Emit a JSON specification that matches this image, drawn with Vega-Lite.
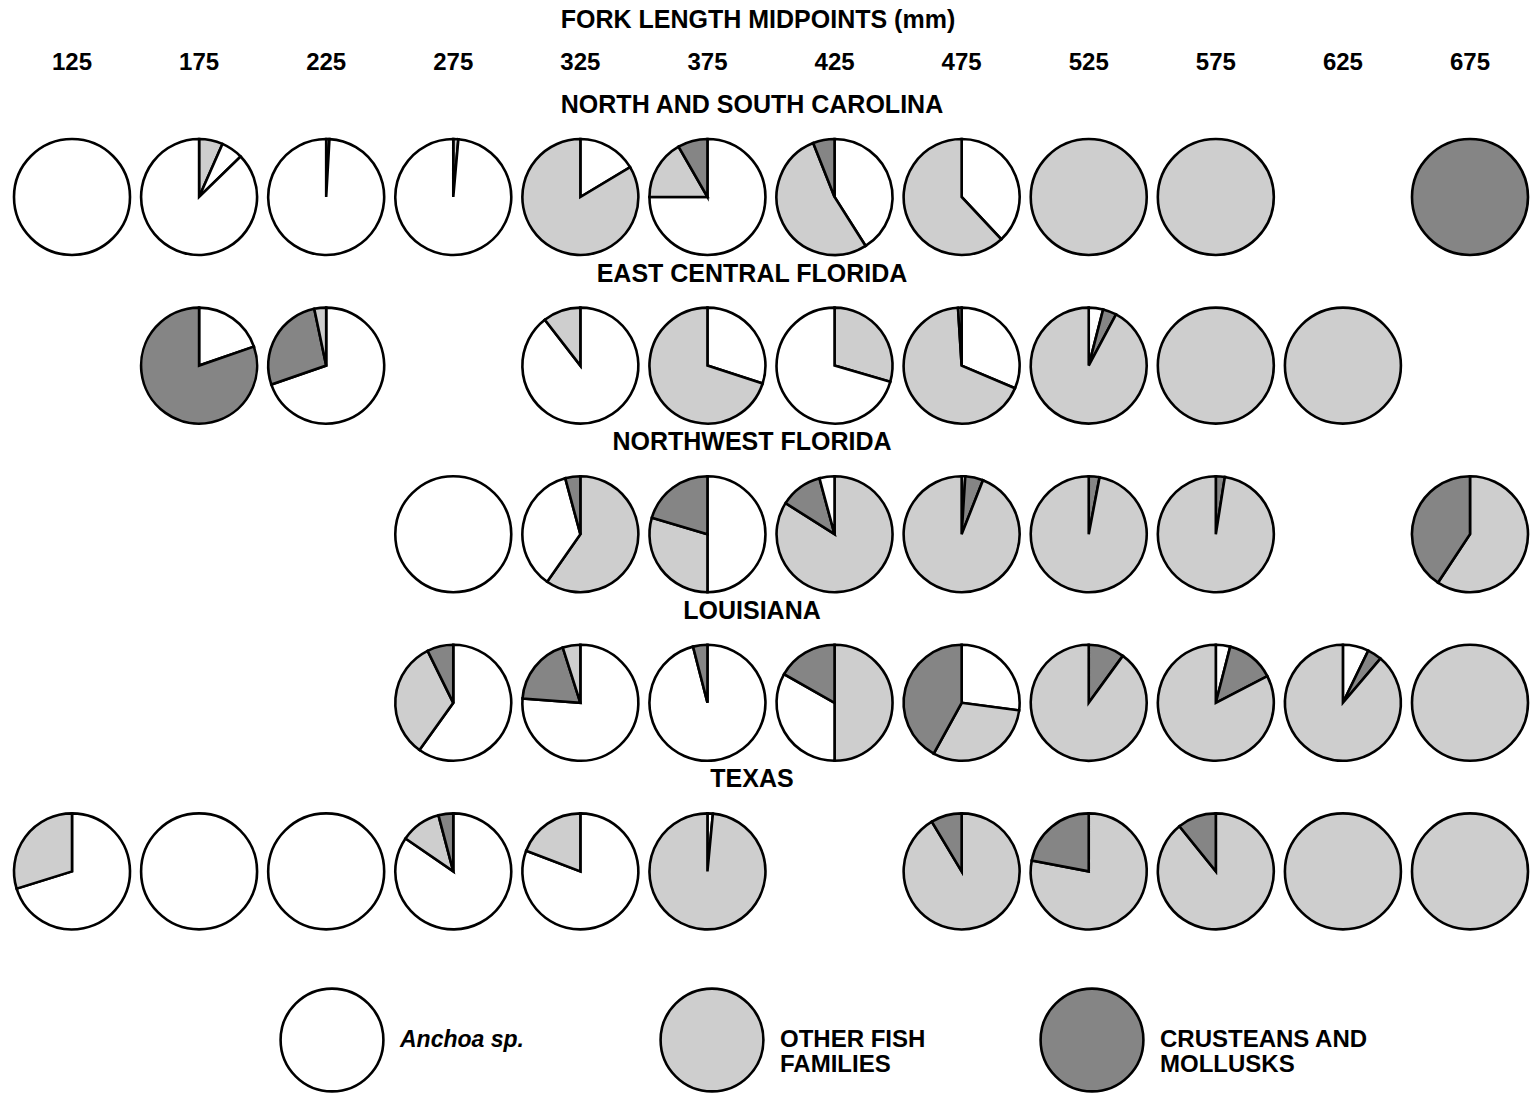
{
  "$schema": "https://vega.github.io/schema/vega-lite/v6.json",
  "width": 1536,
  "height": 1103,
  "autosize": {"type": "fit", "contains": "padding"},
  "padding": 0,
  "background": "white",
  "config": {"view": {"stroke": null}, "axis": {"disable": true}, "font": "Liberation Sans"},
  "datasets": {
    "pies": [
      {"region": "NORTH AND SOUTH CAROLINA", "length": 125, "category": "Anchoa sp.", "pct": 100, "seq": 1},
      {"region": "NORTH AND SOUTH CAROLINA", "length": 175, "category": "OTHER FISH FAMILIES", "pct": 6.6, "seq": 1},
      {"region": "NORTH AND SOUTH CAROLINA", "length": 175, "category": "Anchoa sp.", "pct": 6.1, "seq": 2},
      {"region": "NORTH AND SOUTH CAROLINA", "length": 175, "category": "Anchoa sp.", "pct": 87.3, "seq": 3},
      {"region": "NORTH AND SOUTH CAROLINA", "length": 225, "category": "OTHER FISH FAMILIES", "pct": 0.9, "seq": 1},
      {"region": "NORTH AND SOUTH CAROLINA", "length": 225, "category": "Anchoa sp.", "pct": 99.1, "seq": 2},
      {"region": "NORTH AND SOUTH CAROLINA", "length": 275, "category": "OTHER FISH FAMILIES", "pct": 1.4, "seq": 1},
      {"region": "NORTH AND SOUTH CAROLINA", "length": 275, "category": "Anchoa sp.", "pct": 98.6, "seq": 2},
      {"region": "NORTH AND SOUTH CAROLINA", "length": 325, "category": "Anchoa sp.", "pct": 16.4, "seq": 1},
      {"region": "NORTH AND SOUTH CAROLINA", "length": 325, "category": "OTHER FISH FAMILIES", "pct": 83.6, "seq": 2},
      {"region": "NORTH AND SOUTH CAROLINA", "length": 375, "category": "Anchoa sp.", "pct": 75, "seq": 1},
      {"region": "NORTH AND SOUTH CAROLINA", "length": 375, "category": "OTHER FISH FAMILIES", "pct": 16.7, "seq": 2},
      {"region": "NORTH AND SOUTH CAROLINA", "length": 375, "category": "CRUSTEANS AND MOLLUSKS", "pct": 8.3, "seq": 3},
      {"region": "NORTH AND SOUTH CAROLINA", "length": 425, "category": "Anchoa sp.", "pct": 41, "seq": 1},
      {"region": "NORTH AND SOUTH CAROLINA", "length": 425, "category": "OTHER FISH FAMILIES", "pct": 53, "seq": 2},
      {"region": "NORTH AND SOUTH CAROLINA", "length": 425, "category": "CRUSTEANS AND MOLLUSKS", "pct": 6, "seq": 3},
      {"region": "NORTH AND SOUTH CAROLINA", "length": 475, "category": "Anchoa sp.", "pct": 38, "seq": 1},
      {"region": "NORTH AND SOUTH CAROLINA", "length": 475, "category": "OTHER FISH FAMILIES", "pct": 62, "seq": 2},
      {"region": "NORTH AND SOUTH CAROLINA", "length": 525, "category": "OTHER FISH FAMILIES", "pct": 100, "seq": 1},
      {"region": "NORTH AND SOUTH CAROLINA", "length": 575, "category": "OTHER FISH FAMILIES", "pct": 100, "seq": 1},
      {"region": "NORTH AND SOUTH CAROLINA", "length": 675, "category": "CRUSTEANS AND MOLLUSKS", "pct": 100, "seq": 1},

      {"region": "EAST CENTRAL FLORIDA", "length": 175, "category": "Anchoa sp.", "pct": 19.7, "seq": 1},
      {"region": "EAST CENTRAL FLORIDA", "length": 175, "category": "CRUSTEANS AND MOLLUSKS", "pct": 80.3, "seq": 2},
      {"region": "EAST CENTRAL FLORIDA", "length": 225, "category": "Anchoa sp.", "pct": 69.7, "seq": 1},
      {"region": "EAST CENTRAL FLORIDA", "length": 225, "category": "CRUSTEANS AND MOLLUSKS", "pct": 27, "seq": 2},
      {"region": "EAST CENTRAL FLORIDA", "length": 225, "category": "OTHER FISH FAMILIES", "pct": 3.3, "seq": 3},
      {"region": "EAST CENTRAL FLORIDA", "length": 325, "category": "Anchoa sp.", "pct": 89.5, "seq": 1},
      {"region": "EAST CENTRAL FLORIDA", "length": 325, "category": "OTHER FISH FAMILIES", "pct": 10.5, "seq": 2},
      {"region": "EAST CENTRAL FLORIDA", "length": 375, "category": "Anchoa sp.", "pct": 30, "seq": 1},
      {"region": "EAST CENTRAL FLORIDA", "length": 375, "category": "OTHER FISH FAMILIES", "pct": 70, "seq": 2},
      {"region": "EAST CENTRAL FLORIDA", "length": 425, "category": "OTHER FISH FAMILIES", "pct": 29.5, "seq": 1},
      {"region": "EAST CENTRAL FLORIDA", "length": 425, "category": "Anchoa sp.", "pct": 70.5, "seq": 2},
      {"region": "EAST CENTRAL FLORIDA", "length": 475, "category": "Anchoa sp.", "pct": 31.4, "seq": 1},
      {"region": "EAST CENTRAL FLORIDA", "length": 475, "category": "OTHER FISH FAMILIES", "pct": 67.6, "seq": 2},
      {"region": "EAST CENTRAL FLORIDA", "length": 475, "category": "CRUSTEANS AND MOLLUSKS", "pct": 1, "seq": 3},
      {"region": "EAST CENTRAL FLORIDA", "length": 525, "category": "Anchoa sp.", "pct": 4, "seq": 1},
      {"region": "EAST CENTRAL FLORIDA", "length": 525, "category": "CRUSTEANS AND MOLLUSKS", "pct": 3.8, "seq": 2},
      {"region": "EAST CENTRAL FLORIDA", "length": 525, "category": "OTHER FISH FAMILIES", "pct": 92.2, "seq": 3},
      {"region": "EAST CENTRAL FLORIDA", "length": 575, "category": "OTHER FISH FAMILIES", "pct": 100, "seq": 1},
      {"region": "EAST CENTRAL FLORIDA", "length": 625, "category": "OTHER FISH FAMILIES", "pct": 100, "seq": 1},

      {"region": "NORTHWEST FLORIDA", "length": 275, "category": "Anchoa sp.", "pct": 100, "seq": 1},
      {"region": "NORTHWEST FLORIDA", "length": 325, "category": "OTHER FISH FAMILIES", "pct": 59.7, "seq": 1},
      {"region": "NORTHWEST FLORIDA", "length": 325, "category": "Anchoa sp.", "pct": 36.1, "seq": 2},
      {"region": "NORTHWEST FLORIDA", "length": 325, "category": "CRUSTEANS AND MOLLUSKS", "pct": 4.2, "seq": 3},
      {"region": "NORTHWEST FLORIDA", "length": 375, "category": "Anchoa sp.", "pct": 50, "seq": 1},
      {"region": "NORTHWEST FLORIDA", "length": 375, "category": "OTHER FISH FAMILIES", "pct": 29.6, "seq": 2},
      {"region": "NORTHWEST FLORIDA", "length": 375, "category": "CRUSTEANS AND MOLLUSKS", "pct": 20.4, "seq": 3},
      {"region": "NORTHWEST FLORIDA", "length": 425, "category": "OTHER FISH FAMILIES", "pct": 84, "seq": 1},
      {"region": "NORTHWEST FLORIDA", "length": 425, "category": "CRUSTEANS AND MOLLUSKS", "pct": 11.8, "seq": 2},
      {"region": "NORTHWEST FLORIDA", "length": 425, "category": "Anchoa sp.", "pct": 4.2, "seq": 3},
      {"region": "NORTHWEST FLORIDA", "length": 475, "category": "Anchoa sp.", "pct": 1, "seq": 1},
      {"region": "NORTHWEST FLORIDA", "length": 475, "category": "CRUSTEANS AND MOLLUSKS", "pct": 5, "seq": 2},
      {"region": "NORTHWEST FLORIDA", "length": 475, "category": "OTHER FISH FAMILIES", "pct": 94, "seq": 3},
      {"region": "NORTHWEST FLORIDA", "length": 525, "category": "CRUSTEANS AND MOLLUSKS", "pct": 3, "seq": 1},
      {"region": "NORTHWEST FLORIDA", "length": 525, "category": "OTHER FISH FAMILIES", "pct": 97, "seq": 2},
      {"region": "NORTHWEST FLORIDA", "length": 575, "category": "CRUSTEANS AND MOLLUSKS", "pct": 2.5, "seq": 1},
      {"region": "NORTHWEST FLORIDA", "length": 575, "category": "OTHER FISH FAMILIES", "pct": 97.5, "seq": 2},
      {"region": "NORTHWEST FLORIDA", "length": 675, "category": "OTHER FISH FAMILIES", "pct": 59.3, "seq": 1},
      {"region": "NORTHWEST FLORIDA", "length": 675, "category": "CRUSTEANS AND MOLLUSKS", "pct": 40.7, "seq": 2},

      {"region": "LOUISIANA", "length": 275, "category": "Anchoa sp.", "pct": 59.9, "seq": 1},
      {"region": "LOUISIANA", "length": 275, "category": "OTHER FISH FAMILIES", "pct": 32.8, "seq": 2},
      {"region": "LOUISIANA", "length": 275, "category": "CRUSTEANS AND MOLLUSKS", "pct": 7.3, "seq": 3},
      {"region": "LOUISIANA", "length": 325, "category": "Anchoa sp.", "pct": 76.2, "seq": 1},
      {"region": "LOUISIANA", "length": 325, "category": "CRUSTEANS AND MOLLUSKS", "pct": 18.9, "seq": 2},
      {"region": "LOUISIANA", "length": 325, "category": "OTHER FISH FAMILIES", "pct": 4.9, "seq": 3},
      {"region": "LOUISIANA", "length": 375, "category": "Anchoa sp.", "pct": 96, "seq": 1},
      {"region": "LOUISIANA", "length": 375, "category": "CRUSTEANS AND MOLLUSKS", "pct": 4, "seq": 2},
      {"region": "LOUISIANA", "length": 425, "category": "OTHER FISH FAMILIES", "pct": 50, "seq": 1},
      {"region": "LOUISIANA", "length": 425, "category": "Anchoa sp.", "pct": 33.2, "seq": 2},
      {"region": "LOUISIANA", "length": 425, "category": "CRUSTEANS AND MOLLUSKS", "pct": 16.8, "seq": 3},
      {"region": "LOUISIANA", "length": 475, "category": "Anchoa sp.", "pct": 27.1, "seq": 1},
      {"region": "LOUISIANA", "length": 475, "category": "OTHER FISH FAMILIES", "pct": 30.9, "seq": 2},
      {"region": "LOUISIANA", "length": 475, "category": "CRUSTEANS AND MOLLUSKS", "pct": 42, "seq": 3},
      {"region": "LOUISIANA", "length": 525, "category": "CRUSTEANS AND MOLLUSKS", "pct": 10, "seq": 1},
      {"region": "LOUISIANA", "length": 525, "category": "OTHER FISH FAMILIES", "pct": 90, "seq": 2},
      {"region": "LOUISIANA", "length": 575, "category": "Anchoa sp.", "pct": 4, "seq": 1},
      {"region": "LOUISIANA", "length": 575, "category": "CRUSTEANS AND MOLLUSKS", "pct": 13.4, "seq": 2},
      {"region": "LOUISIANA", "length": 575, "category": "OTHER FISH FAMILIES", "pct": 82.6, "seq": 3},
      {"region": "LOUISIANA", "length": 625, "category": "Anchoa sp.", "pct": 7.2, "seq": 1},
      {"region": "LOUISIANA", "length": 625, "category": "CRUSTEANS AND MOLLUSKS", "pct": 4, "seq": 2},
      {"region": "LOUISIANA", "length": 625, "category": "OTHER FISH FAMILIES", "pct": 88.8, "seq": 3},
      {"region": "LOUISIANA", "length": 675, "category": "OTHER FISH FAMILIES", "pct": 100, "seq": 1},

      {"region": "TEXAS", "length": 125, "category": "Anchoa sp.", "pct": 70.2, "seq": 1},
      {"region": "TEXAS", "length": 125, "category": "OTHER FISH FAMILIES", "pct": 29.8, "seq": 2},
      {"region": "TEXAS", "length": 175, "category": "Anchoa sp.", "pct": 100, "seq": 1},
      {"region": "TEXAS", "length": 225, "category": "Anchoa sp.", "pct": 100, "seq": 1},
      {"region": "TEXAS", "length": 275, "category": "Anchoa sp.", "pct": 84.6, "seq": 1},
      {"region": "TEXAS", "length": 275, "category": "OTHER FISH FAMILIES", "pct": 11.3, "seq": 2},
      {"region": "TEXAS", "length": 275, "category": "CRUSTEANS AND MOLLUSKS", "pct": 4.1, "seq": 3},
      {"region": "TEXAS", "length": 325, "category": "Anchoa sp.", "pct": 80.8, "seq": 1},
      {"region": "TEXAS", "length": 325, "category": "OTHER FISH FAMILIES", "pct": 19.2, "seq": 2},
      {"region": "TEXAS", "length": 375, "category": "Anchoa sp.", "pct": 1.5, "seq": 1},
      {"region": "TEXAS", "length": 375, "category": "OTHER FISH FAMILIES", "pct": 98.5, "seq": 2},
      {"region": "TEXAS", "length": 475, "category": "OTHER FISH FAMILIES", "pct": 91.4, "seq": 1},
      {"region": "TEXAS", "length": 475, "category": "CRUSTEANS AND MOLLUSKS", "pct": 8.6, "seq": 2},
      {"region": "TEXAS", "length": 525, "category": "OTHER FISH FAMILIES", "pct": 78, "seq": 1},
      {"region": "TEXAS", "length": 525, "category": "CRUSTEANS AND MOLLUSKS", "pct": 22, "seq": 2},
      {"region": "TEXAS", "length": 575, "category": "OTHER FISH FAMILIES", "pct": 89.2, "seq": 1},
      {"region": "TEXAS", "length": 575, "category": "CRUSTEANS AND MOLLUSKS", "pct": 10.8, "seq": 2},
      {"region": "TEXAS", "length": 625, "category": "OTHER FISH FAMILIES", "pct": 100, "seq": 1},
      {"region": "TEXAS", "length": 675, "category": "OTHER FISH FAMILIES", "pct": 100, "seq": 1}
    ],
    "regions": [
      {"region": "NORTH AND SOUTH CAROLINA", "heading": "NORTH  AND SOUTH CAROLINA"},
      {"region": "EAST CENTRAL FLORIDA", "heading": "EAST CENTRAL FLORIDA"},
      {"region": "NORTHWEST FLORIDA", "heading": "NORTHWEST FLORIDA"},
      {"region": "LOUISIANA", "heading": "LOUISIANA"},
      {"region": "TEXAS", "heading": "TEXAS"}
    ],
    "lengths": [
      {"length": 125}, {"length": 175}, {"length": 225}, {"length": 275},
      {"length": 325}, {"length": 375}, {"length": 425}, {"length": 475},
      {"length": 525}, {"length": 575}, {"length": 625}, {"length": 675}
    ],
    "key": [
      {"category": "Anchoa sp.", "label": "Anchoa sp."},
      {"category": "OTHER FISH FAMILIES", "label": "OTHER  FISH\nFAMILIES"},
      {"category": "CRUSTEANS AND MOLLUSKS", "label": "CRUSTEANS  AND\nMOLLUSKS"}
    ]
  },
  "layer": [
    {
      "layer": [
        {
          "data": {"name": "pies"},
          "transform": [
            {"stack": "pct", "groupby": ["region", "length"], "sort": [{"field": "seq", "order": "ascending"}], "offset": "normalize", "as": ["p0", "p1"]}
          ],
          "mark": {"type": "arc", "radius": 58, "stroke": "black", "strokeWidth": 2.6, "strokeJoin": "miter"},
          "encoding": {
            "x": {"field": "length", "type": "quantitative", "stack": null, "scale": {"domain": [125, 675], "range": [72, 1470], "nice": false, "zero": false}, "axis": null},
            "y": {"field": "region", "type": "nominal", "scale": {"type": "point", "domain": ["NORTH AND SOUTH CAROLINA", "EAST CENTRAL FLORIDA", "NORTHWEST FLORIDA", "LOUISIANA", "TEXAS", "KEY"], "range": [197, 1040], "padding": 0}, "axis": null},
            "theta": {"field": "p0", "type": "quantitative", "stack": null, "scale": {"domain": [0, 1], "range": [0, 6.283185307179586]}},
            "theta2": {"field": "p1"},
            "color": {"field": "category", "type": "nominal", "scale": {"domain": ["Anchoa sp.", "OTHER FISH FAMILIES", "CRUSTEANS AND MOLLUSKS"], "range": ["#ffffff", "#cecece", "#858585"]}, "legend": null}
          }
        },
        {
          "data": {"name": "regions"},
          "mark": {"type": "text", "font": "Liberation Sans", "fontWeight": "bold", "fontSize": 25, "dy": -92, "dx": -16, "align": "center", "baseline": "middle", "color": "black"},
          "encoding": {
            "x": {"value": {"expr": "width / 2"}},
            "y": {"field": "region", "type": "nominal", "axis": null},
            "text": {"field": "heading"}
          }
        },
        {
          "data": {"name": "lengths"},
          "mark": {"type": "text", "font": "Liberation Sans", "fontWeight": "bold", "fontSize": 24, "dy": -134, "align": "center", "baseline": "middle", "color": "black"},
          "encoding": {
            "x": {"field": "length", "type": "quantitative", "axis": null},
            "y": {"datum": "NORTH AND SOUTH CAROLINA", "type": "nominal", "axis": null},
            "text": {"field": "length", "type": "quantitative"}
          }
        },
        {
          "data": {"values": [{"title": "FORK LENGTH  MIDPOINTS (mm)"}]},
          "mark": {"type": "text", "font": "Liberation Sans", "fontWeight": "bold", "fontSize": 25, "dy": -177, "dx": -10, "align": "center", "baseline": "middle", "color": "black"},
          "encoding": {
            "x": {"value": {"expr": "width / 2"}},
            "y": {"datum": "NORTH AND SOUTH CAROLINA", "type": "nominal", "axis": null},
            "text": {"field": "title"}
          }
        }
      ]
    },
    {
      "layer": [
        {
          "data": {"name": "key"},
          "mark": {"type": "circle", "size": 10568, "stroke": "black", "strokeWidth": 2.6, "opacity": 1},
          "encoding": {
            "x": {"field": "category", "type": "nominal", "scale": {"type": "point", "domain": ["Anchoa sp.", "OTHER FISH FAMILIES", "CRUSTEANS AND MOLLUSKS"], "range": [332, 1092], "padding": 0}, "axis": null},
            "y": {"datum": "KEY", "type": "nominal", "axis": null},
            "fill": {"field": "category", "type": "nominal", "scale": {"domain": ["Anchoa sp.", "OTHER FISH FAMILIES", "CRUSTEANS AND MOLLUSKS"], "range": ["#ffffff", "#cecece", "#858585"]}, "legend": null}
          }
        },
        {
          "data": {"name": "key"},
          "transform": [{"filter": "datum.category === 'Anchoa sp.'"}],
          "mark": {"type": "text", "font": "Liberation Sans", "fontStyle": "italic", "fontWeight": "bold", "fontSize": 23, "dx": 68, "align": "left", "baseline": "middle", "color": "black"},
          "encoding": {
            "x": {"field": "category", "type": "nominal", "axis": null},
            "y": {"datum": "KEY", "type": "nominal", "axis": null},
            "text": {"field": "label"}
          }
        },
        {
          "data": {"name": "key"},
          "transform": [{"filter": "datum.category !== 'Anchoa sp.'"}],
          "mark": {"type": "text", "font": "Liberation Sans", "fontWeight": "bold", "fontSize": 24, "dx": 68, "align": "left", "baseline": "middle", "lineBreak": "\n", "lineHeight": 25, "color": "black"},
          "encoding": {
            "x": {"field": "category", "type": "nominal", "axis": null},
            "y": {"datum": "KEY", "type": "nominal", "axis": null},
            "text": {"field": "label"}
          }
        }
      ]
    }
  ],
  "resolve": {"scale": {"x": "independent"}}
}
